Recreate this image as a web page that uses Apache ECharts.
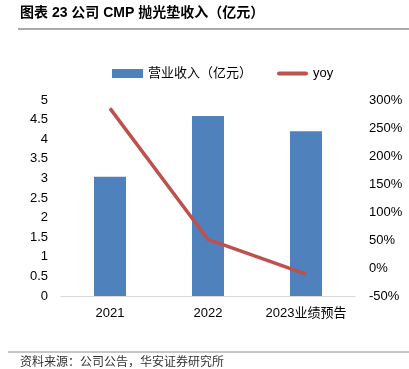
<!DOCTYPE html>
<html>
<head>
    <meta charset="utf-8">
    <title>ECharts</title>
    <script src="https://cdn.jsdelivr.net/npm/echarts@6/dist/echarts.min.js"></script>
    <style>
        body { margin: 0; background: #fff; }
    </style>
</head>
<body>
<div id="main" style="width: 409px;height:369px;"></div>
<script type="text/javascript">
    var categories = ['2021', '2022', '2023业绩预告'];
    var revenue = [3.04, 4.59, 4.20];      // 营业收入（亿元）
    var yoy = [2.85, 0.51, -0.11];          // 同比
    var leftTicks = [0, 5, 0.5];            // min, max, interval
    var rightTicks = [-0.5, 3, 0.5];

    var fontFamily = 'Arial, "Liberation Sans", "Noto Sans CJK SC", sans-serif';
    var myChart = echarts.init(document.getElementById('main'));

    var option = {
        backgroundColor: '#fff',
        textStyle: { fontFamily: fontFamily },
        graphic: [
            {
                type: 'text', left: 20, top: 6,
                style: {
                    text: '图表 23 公司 CMP 抛光垫收入（亿元）',
                    font: 'bold 14px ' + fontFamily,
                    fill: '#000'
                }
            },
            {
                type: 'line', shape: { x1: 18, y1: 29, x2: 409, y2: 29 },
                style: { stroke: '#8c8c8c', lineWidth: 1.5 }
            },
            {
                type: 'line', shape: { x1: 8, y1: 352, x2: 409, y2: 352 },
                style: { stroke: '#8c8c8c', lineWidth: 1 }
            },
            {
                type: 'text', left: 20, top: 355,
                style: {
                    text: '资料来源：公司公告，华安证券研究所',
                    font: '12px "Noto Sans CJK SC", sans-serif',
                    fill: '#333'
                }
            }
        ],
        legend: {
            top: 62,
            left: 107,
            itemWidth: 31,
            itemHeight: 9,
            itemGap: 25,
            textStyle: { fontSize: 13, color: '#000', fontFamily: fontFamily },
            data: [
                { name: '营业收入（亿元）', icon: 'rect' },
                { name: 'yoy', icon: 'path://M2,0 L29,0 A2,2 0 0 1 29,4 L2,4 A2,2 0 0 1 2,0 Z' }
            ]
        },
        grid: { left: 61, right: 54, top: 100, bottom: 73 },
        xAxis: {
            type: 'category',
            data: categories,
            axisLine: { lineStyle: { color: '#d9d9d9', width: 1 } },
            axisTick: { show: false },
            axisLabel: { color: '#000', fontSize: 13, margin: 11, interval: 0 }
        },
        yAxis: [
            {
                type: 'value',
                min: leftTicks[0], max: leftTicks[1], interval: leftTicks[2],
                splitLine: { show: false },
                axisLine: { show: false },
                axisLabel: { color: '#000', fontSize: 13, margin: 13 }
            },
            {
                type: 'value',
                min: rightTicks[0], max: rightTicks[1], interval: rightTicks[2],
                splitLine: { show: false },
                axisLine: { show: false },
                axisLabel: {
                    color: '#000', fontSize: 13, margin: 14,
                    formatter: function (v) { return Math.round(v * 100) + '%'; }
                }
            }
        ],
        series: [
            {
                name: '营业收入（亿元）',
                type: 'bar',
                data: revenue,
                barWidth: 32,
                itemStyle: { color: '#4f81bd' }
            },
            {
                name: 'yoy',
                type: 'line',
                yAxisIndex: 1,
                data: yoy,
                symbol: 'none',
                lineStyle: { color: '#c0504d', width: 3.5 },
                itemStyle: { color: '#c0504d' }
            }
        ]
    };

    myChart.setOption(option);
</script>
</body>
</html>
